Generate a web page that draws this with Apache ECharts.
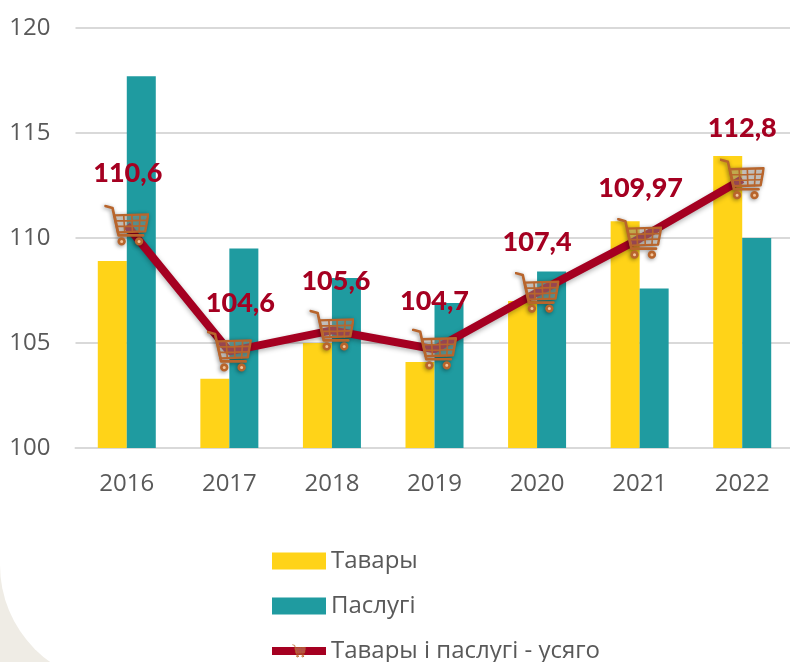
<!DOCTYPE html>
<html>
<head>
<meta charset="utf-8">
<script src="https://cdn.jsdelivr.net/npm/echarts@6/dist/echarts.min.js"></script>
<style>
  html, body { margin: 0; height: 100%; background: #efece5; overflow: hidden; }
  #panel { position: absolute; left: 0; top: 0; width: 790px; height: 684px; background: #fff; border-bottom-left-radius: 119px; }
  #main { position: absolute; left: 0; top: 0; width: 790px; height: 662px; }
</style>
</head>
<body>
<div id="panel"></div>
<div id="main"></div>
<script>
var years = ['2016', '2017', '2018', '2019', '2020', '2021', '2022'];
var goods = [108.9, 103.3, 105.0, 104.1, 107.0, 110.8, 113.9];
var services = [117.7, 109.5, 108.1, 106.9, 108.4, 107.6, 110.0];
var total = [110.6, 104.6, 105.6, 104.7, 107.4, 109.97, 112.8];
var seriesNames = ['Тавары', 'Паслугі', 'Тавары і паслугі - усяго'];

// data labels sit by hand around the cart, as in the original
var labelShift = [[1, -52], [11, -48], [4, -49], [0, -48], [0, -50], [1, -50], [0, -51]];

// shopping cart marker
var cartSvg = '<svg xmlns="http://www.w3.org/2000/svg" viewBox="0 0 44 42">' +
  '<g fill="none" stroke="#b8652c" stroke-width="1.6" stroke-linecap="round" stroke-linejoin="round">' +
  '<path stroke-width="2.6" d="M1 1.5 L8 3.5 L14 31 L38 31"/>' +
  '<path stroke-width="2.4" fill="rgba(210,200,190,0.35)" d="M10 11 L43 10 L40 27 L13.5 28 Z"/>' +
  '<path d="M19 11 L20 28 M27 10.5 L27.5 27.5 M35 10.5 L34 27.5 M11.5 16.5 L42 16 M12.7 22 L41 21.5"/>' +
  '<circle cx="17" cy="37" r="2.8" stroke-width="2.6" fill="#f2c49b"/>' +
  '<circle cx="34" cy="37" r="2.8" stroke-width="2.6" fill="#f2c49b"/>' +
  '</g></svg>';
var cartIcon = 'image://data:image/svg+xml;charset=utf-8,' + encodeURIComponent(cartSvg);

var myChart = echarts.init(document.getElementById('main'));
myChart.setOption({
  animation: false,
  backgroundColor: 'transparent',
  textStyle: { fontFamily: '"Open Sans"' },
  grid: { left: 75.5, width: 718, top: 28, height: 420, outerBoundsMode: 'none' },
  legend: {
    data: [
      { name: seriesNames[0], icon: 'rect' },
      { name: seriesNames[1], icon: 'rect' },
      { name: seriesNames[2] }
    ],
    orient: 'vertical',
    left: 263,
    top: 544,
    height: 140,
    itemWidth: 54,
    itemHeight: 17,
    itemGap: 21,
    lineStyle: { width: 8 },
    textStyle: { color: '#595959', fontSize: 24, fontFamily: '"Open Sans"' }
  },
  xAxis: {
    type: 'category',
    data: years,
    axisTick: { show: false },
    axisLine: { lineStyle: { color: '#d9d9d9', width: 2 } },
    axisLabel: { color: '#595959', fontSize: 24, margin: 24 }
  },
  yAxis: {
    type: 'value',
    min: 100,
    max: 120,
    interval: 5,
    axisLine: { show: false },
    axisTick: { show: false },
    splitLine: { lineStyle: { color: '#d9d9d9', width: 2 } },
    axisLabel: { color: '#595959', fontSize: 24, margin: 25 }
  },
  series: [
    {
      name: seriesNames[0],
      type: 'bar',
      data: goods,
      barWidth: 29,
      barGap: 0,
      itemStyle: { color: '#ffd318' }
    },
    {
      name: seriesNames[1],
      type: 'bar',
      data: services,
      barWidth: 29,
      itemStyle: { color: '#1f9ba0' }
    },
    {
      name: seriesNames[2],
      type: 'line',
      data: total.map(function (v, i) {
        return {
          value: v,
          label: { offset: [labelShift[i][0], labelShift[i][1]] }
        };
      }),
      symbol: cartIcon,
      symbolSize: [45, 42],
      lineStyle: { color: '#a50021', width: 8, shadowBlur: 5, shadowColor: 'rgba(0,0,0,0.3)', shadowOffsetY: 2 },
      itemStyle: { color: '#a50021', shadowBlur: 4, shadowColor: 'rgba(0,0,0,0.45)', shadowOffsetX: -1, shadowOffsetY: 1 },
      label: {
        show: true,
        position: 'inside',
        color: '#a50021',
        fontSize: 27,
        fontWeight: 900,
        fontFamily: 'Lato',
        formatter: function (p) {
          return String(p.value).replace('.', ',');
        }
      }
    }
  ]
});
</script>
</body>
</html>
